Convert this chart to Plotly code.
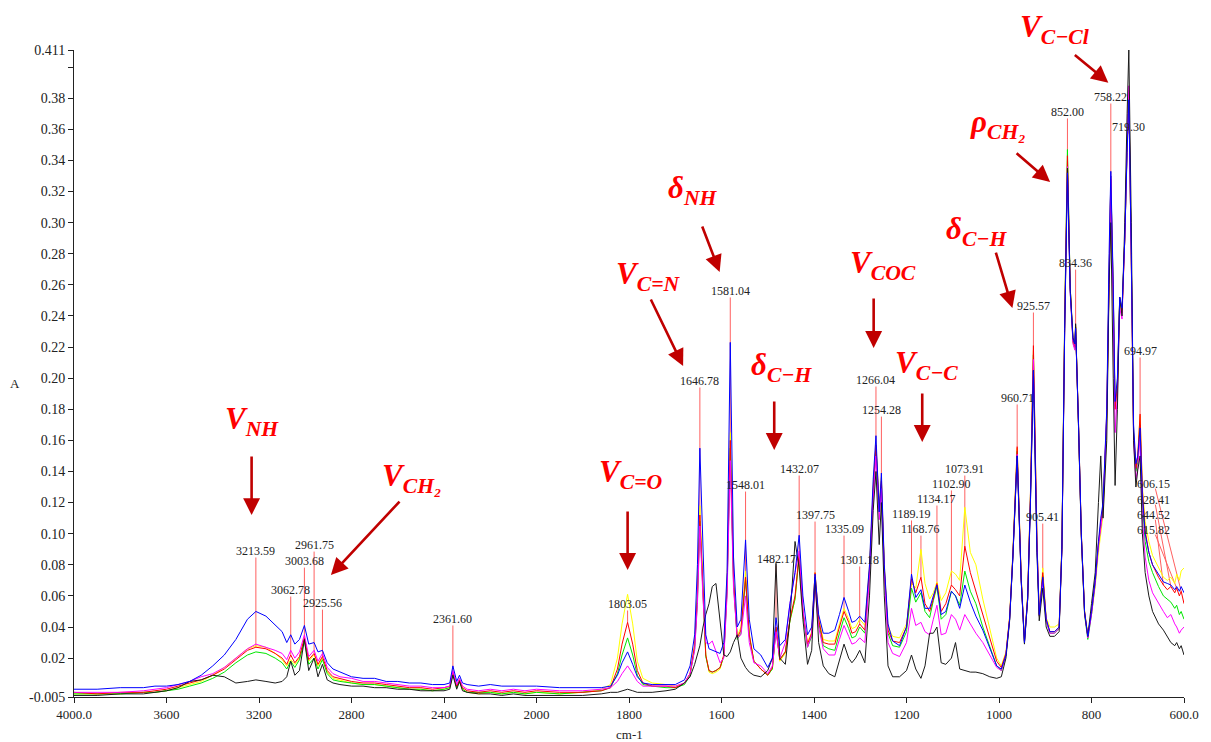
import plotly.graph_objects as go

# ---------------- spectra (absorbance vs wavenumber, cm-1) ----------------
wavenumber = [
    # 4000-2050
    4000, 3900, 3800, 3700, 3650, 3600, 3550, 3500, 3450, 3400,
    3350, 3300, 3250, 3213.59, 3170, 3130, 3100, 3080, 3062.78, 3045,
    3025, 3003.68, 2985, 2961.75, 2945, 2925.56, 2905, 2880, 2850, 2800,
    2750, 2700, 2650, 2600, 2550, 2500, 2450, 2400, 2375, 2361.60,
    2345, 2333, 2320, 2300, 2250, 2200, 2150, 2100, 2050,
    # 2000-1720
    2000, 1950, 1900, 1860, 1840, 1825, 1815, 1803.05, 1792, 1782, 1770, 1750, 1720,
    # 1700-1368
    1700, 1680, 1668, 1658, 1652, 1646.78, 1640, 1634, 1627, 1620,
    1612, 1603, 1595, 1588, 1581.04, 1574, 1566, 1558, 1548.01, 1540,
    1530, 1515, 1500, 1490, 1482.17, 1474, 1462, 1452, 1441, 1432.07,
    1424, 1414, 1405, 1397.75, 1390, 1380, 1368,
    # 1355-1005
    1355, 1345, 1335.09, 1325, 1318, 1310, 1301.18, 1290, 1280, 1272,
    1266.04, 1259, 1254.28, 1248, 1240, 1230, 1215, 1200, 1189.19, 1180,
    1168.76, 1160, 1150, 1142, 1134.17, 1125, 1115, 1102.90, 1094, 1085,
    1073.91, 1062, 1050, 1035, 1020, 1005,
    # 995-600
    995, 985, 977, 970, 960.71, 952, 945, 938, 932, 925.57,
    918, 913, 905.41, 898, 890, 880, 870, 864, 858, 852.00,
    846, 840, 836, 834.36, 828, 822, 815, 808, 800, 792,
    785, 780, 775, 767, 762, 758.22, 753, 749, 744, 739,
    734, 728, 723, 719.30, 714, 709, 704, 700, 694.97, 690,
    684, 676, 668, 655, 644.52, 636, 628.41, 620, 615.82, 610,
    606.15, 600,
]

blue = [
    0.000, 0.000, 0.001, 0.001, 0.002, 0.002, 0.003, 0.005, 0.009, 0.015,
    0.022, 0.032, 0.045, 0.050, 0.047, 0.041, 0.037, 0.030, 0.035, 0.029,
    0.032, 0.041, 0.029, 0.030, 0.024, 0.025, 0.017, 0.013, 0.011, 0.008,
    0.007, 0.007, 0.005, 0.005, 0.004, 0.004, 0.003, 0.003, 0.004, 0.015,
    0.005, 0.009, 0.004, 0.003, 0.002, 0.003, 0.002, 0.002, 0.002,
    0.002, 0.001, 0.001, 0.001, 0.002, 0.009, 0.017, 0.024, 0.016, 0.008, 0.004, 0.003, 0.003,
    0.003, 0.006, 0.015, 0.035, 0.080, 0.155, 0.085, 0.035, 0.026, 0.025,
    0.024, 0.023, 0.030, 0.075, 0.223, 0.085, 0.040, 0.045, 0.096, 0.045,
    0.026, 0.022, 0.014, 0.020, 0.046, 0.028, 0.032, 0.055, 0.075, 0.099,
    0.060, 0.035, 0.040, 0.074, 0.048, 0.036, 0.036,
    0.038, 0.048, 0.059, 0.050, 0.043, 0.044, 0.047, 0.043, 0.080, 0.135,
    0.163, 0.114, 0.139, 0.080, 0.042, 0.031, 0.028, 0.040, 0.074, 0.059,
    0.064, 0.052, 0.052, 0.060, 0.067, 0.048, 0.050, 0.063, 0.060, 0.052,
    0.067, 0.056, 0.047, 0.038, 0.026, 0.015,
    0.013, 0.022, 0.045, 0.085, 0.150, 0.070, 0.030, 0.058, 0.120, 0.205,
    0.090, 0.048, 0.072, 0.045, 0.037, 0.037, 0.040, 0.090, 0.230, 0.332,
    0.255, 0.225, 0.222, 0.232, 0.170, 0.100, 0.050, 0.034, 0.050, 0.070,
    0.095, 0.110, 0.120, 0.180, 0.280, 0.333, 0.260, 0.185, 0.200, 0.252,
    0.245, 0.290, 0.345, 0.379, 0.280, 0.170, 0.145, 0.150, 0.168, 0.125,
    0.100, 0.088, 0.080, 0.074, 0.069, 0.068, 0.067, 0.064, 0.066, 0.063,
    0.066, 0.062,
]

magenta = [
    -0.002, -0.002, -0.002, -0.001, 0.000, 0.001, 0.003, 0.005, 0.008, 0.010,
    0.014, 0.020, 0.026, 0.029, 0.027, 0.025, 0.023, 0.019, 0.025, 0.020,
    0.024, 0.035, 0.021, 0.025, 0.018, 0.023, 0.014, 0.010, 0.008, 0.007,
    0.005, 0.005, 0.004, 0.003, 0.002, 0.002, 0.001, 0.001, 0.002, 0.012,
    0.003, 0.007, 0.002, 0.000, -0.001, 0.000, -0.001, 0.000, -0.001,
    0.000, -0.001, -0.001, 0.000, 0.001, 0.005, 0.010, 0.015, 0.010, 0.005, 0.002, 0.002, 0.002,
    0.002, 0.004, 0.010, 0.025, 0.055, 0.105, 0.058, 0.030, 0.029, 0.031,
    0.024, 0.017, 0.020, 0.060, 0.147, 0.065, 0.033, 0.035, 0.060, 0.030,
    0.017, 0.015, 0.010, 0.015, 0.037, 0.020, 0.030, 0.055, 0.075, 0.089,
    0.052, 0.027, 0.035, 0.066, 0.040, 0.026, 0.022,
    0.022, 0.032, 0.041, 0.034, 0.029, 0.030, 0.033, 0.030, 0.072, 0.122,
    0.150, 0.109, 0.129, 0.075, 0.030, 0.023, 0.021, 0.030, 0.052, 0.041,
    0.043, 0.037, 0.035, 0.045, 0.054, 0.035, 0.036, 0.048, 0.045, 0.038,
    0.048, 0.042, 0.036, 0.030, 0.022, 0.014,
    0.012, 0.022, 0.045, 0.085, 0.151, 0.070, 0.030, 0.058, 0.122, 0.212,
    0.095, 0.047, 0.070, 0.044, 0.036, 0.036, 0.039, 0.090, 0.232, 0.336,
    0.255, 0.222, 0.218, 0.232, 0.168, 0.098, 0.049, 0.033, 0.048, 0.068,
    0.092, 0.105, 0.115, 0.175, 0.275, 0.330, 0.245, 0.165, 0.190, 0.245,
    0.238, 0.290, 0.350, 0.388, 0.275, 0.160, 0.135, 0.142, 0.162, 0.110,
    0.085, 0.070, 0.062, 0.055, 0.050, 0.046, 0.048, 0.042, 0.040, 0.036,
    0.038, 0.040,
]

red = [
    -0.002, -0.003, -0.002, -0.002, -0.001, 0.000, 0.002, 0.004, 0.006, 0.009,
    0.013, 0.019, 0.025, 0.027, 0.026, 0.023, 0.020, 0.016, 0.022, 0.017,
    0.021, 0.033, 0.019, 0.023, 0.016, 0.021, 0.012, 0.008, 0.007, 0.005,
    0.004, 0.004, 0.003, 0.002, 0.001, 0.001, 0.000, 0.001, 0.002, 0.011,
    0.002, 0.006, 0.001, -0.001, -0.002, -0.001, -0.002, -0.001, -0.002,
    -0.001, -0.002, -0.002, -0.001, 0.001, 0.013, 0.029, 0.043, 0.029, 0.012, 0.004, 0.002, 0.002,
    0.001, 0.004, 0.010, 0.028, 0.060, 0.112, 0.060, 0.022, 0.012, 0.011,
    0.012, 0.014, 0.022, 0.065, 0.160, 0.070, 0.033, 0.038, 0.072, 0.035,
    0.018, 0.013, 0.009, 0.014, 0.040, 0.019, 0.024, 0.045, 0.060, 0.087,
    0.050, 0.029, 0.036, 0.075, 0.045, 0.030, 0.029,
    0.029, 0.040, 0.050, 0.043, 0.036, 0.037, 0.042, 0.038, 0.077, 0.128,
    0.157, 0.116, 0.134, 0.078, 0.038, 0.031, 0.030, 0.040, 0.071, 0.062,
    0.072, 0.055, 0.050, 0.058, 0.068, 0.050, 0.055, 0.067, 0.064, 0.060,
    0.092, 0.075, 0.063, 0.048, 0.032, 0.018,
    0.014, 0.023, 0.046, 0.087, 0.156, 0.072, 0.031, 0.060, 0.126, 0.221,
    0.096, 0.048, 0.075, 0.045, 0.037, 0.037, 0.040, 0.092, 0.236, 0.343,
    0.258, 0.224, 0.220, 0.234, 0.170, 0.100, 0.050, 0.034, 0.050, 0.070,
    0.094, 0.108, 0.118, 0.178, 0.278, 0.328, 0.255, 0.180, 0.195, 0.252,
    0.242, 0.290, 0.348, 0.383, 0.278, 0.165, 0.142, 0.150, 0.177, 0.128,
    0.102, 0.088, 0.080, 0.072, 0.067, 0.064, 0.066, 0.062, 0.065, 0.060,
    0.063, 0.055,
]

yellow = [
    -0.003, -0.003, -0.003, -0.002, -0.002, -0.001, 0.001, 0.003, 0.005, 0.009,
    0.014, 0.020, 0.026, 0.028, 0.027, 0.023, 0.019, 0.015, 0.019, 0.016,
    0.020, 0.033, 0.018, 0.022, 0.015, 0.020, 0.011, 0.007, 0.006, 0.004,
    0.003, 0.003, 0.002, 0.001, 0.000, 0.000, -0.001, 0.000, 0.001, 0.011,
    0.001, 0.006, 0.000, -0.002, -0.003, -0.002, -0.003, -0.002, -0.003,
    -0.002, -0.003, -0.002, 0.000, 0.003, 0.020, 0.042, 0.061, 0.042, 0.018, 0.007, 0.004, 0.003,
    0.002, 0.004, 0.010, 0.030, 0.063, 0.118, 0.062, 0.022, 0.011, 0.010,
    0.011, 0.013, 0.022, 0.068, 0.165, 0.072, 0.034, 0.040, 0.076, 0.036,
    0.018, 0.013, 0.009, 0.013, 0.040, 0.018, 0.023, 0.044, 0.058, 0.086,
    0.049, 0.030, 0.037, 0.075, 0.046, 0.032, 0.031,
    0.031, 0.042, 0.052, 0.045, 0.039, 0.040, 0.045, 0.041, 0.079, 0.130,
    0.158, 0.118, 0.136, 0.080, 0.040, 0.034, 0.033, 0.042, 0.068, 0.065,
    0.090, 0.068, 0.058, 0.062, 0.069, 0.057, 0.062, 0.076, 0.074, 0.070,
    0.117, 0.088, 0.080, 0.058, 0.038, 0.020,
    0.015, 0.024, 0.047, 0.088, 0.155, 0.072, 0.032, 0.060, 0.125, 0.218,
    0.096, 0.049, 0.078, 0.046, 0.040, 0.040, 0.042, 0.092, 0.234, 0.340,
    0.256, 0.223, 0.220, 0.233, 0.170, 0.100, 0.051, 0.035, 0.048, 0.066,
    0.088, 0.100, 0.112, 0.170, 0.272, 0.325, 0.250, 0.180, 0.195, 0.250,
    0.242, 0.290, 0.347, 0.380, 0.278, 0.165, 0.142, 0.150, 0.176, 0.130,
    0.108, 0.095, 0.086, 0.078, 0.072, 0.070, 0.072, 0.068, 0.074, 0.070,
    0.076, 0.078,
]

green = [
    -0.003, -0.003, -0.003, -0.002, -0.002, -0.001, 0.000, 0.002, 0.004, 0.007,
    0.011, 0.017, 0.022, 0.024, 0.023, 0.020, 0.017, 0.013, 0.018, 0.014,
    0.019, 0.031, 0.016, 0.020, 0.013, 0.019, 0.010, 0.006, 0.005, 0.004,
    0.003, 0.003, 0.002, 0.001, 0.000, 0.000, -0.001, 0.000, 0.001, 0.010,
    0.001, 0.005, 0.000, -0.002, -0.002, -0.002, -0.003, -0.002, -0.003,
    -0.002, -0.003, -0.002, -0.001, 0.001, 0.010, 0.022, 0.033, 0.022, 0.009, 0.003, 0.002, 0.001,
    0.001, 0.003, 0.009, 0.026, 0.057, 0.108, 0.058, 0.021, 0.012, 0.011,
    0.012, 0.014, 0.021, 0.063, 0.155, 0.068, 0.032, 0.036, 0.070, 0.034,
    0.018, 0.013, 0.009, 0.013, 0.039, 0.019, 0.024, 0.044, 0.058, 0.086,
    0.049, 0.027, 0.034, 0.071, 0.043, 0.028, 0.026,
    0.025, 0.036, 0.046, 0.039, 0.033, 0.034, 0.040, 0.036, 0.076, 0.126,
    0.155, 0.114, 0.132, 0.077, 0.036, 0.028, 0.027, 0.037, 0.065, 0.056,
    0.062, 0.050, 0.046, 0.057, 0.066, 0.045, 0.048, 0.063, 0.060, 0.054,
    0.076, 0.063, 0.055, 0.040, 0.027, 0.015,
    0.012, 0.022, 0.045, 0.086, 0.153, 0.071, 0.030, 0.059, 0.124, 0.215,
    0.095, 0.047, 0.073, 0.044, 0.036, 0.036, 0.039, 0.092, 0.238, 0.347,
    0.258, 0.223, 0.219, 0.233, 0.168, 0.098, 0.048, 0.032, 0.048, 0.068,
    0.093, 0.106, 0.116, 0.176, 0.277, 0.330, 0.256, 0.182, 0.196, 0.252,
    0.243, 0.290, 0.350, 0.385, 0.277, 0.163, 0.140, 0.146, 0.170, 0.120,
    0.095, 0.082, 0.075, 0.066, 0.060, 0.058, 0.056, 0.052, 0.054, 0.048,
    0.050, 0.045,
]

black = [
    -0.004, -0.004, -0.003, -0.003, -0.002, -0.001, 0.001, 0.005, 0.006, 0.009,
    0.008, 0.004, 0.005, 0.006, 0.005, 0.004, 0.005, 0.008, 0.018, 0.009,
    0.012, 0.032, 0.012, 0.020, 0.008, 0.016, 0.006, 0.004, 0.003, 0.002,
    0.002, 0.001, 0.001, 0.000, 0.000, -0.001, -0.001, -0.001, 0.000, 0.009,
    0.000, 0.005, -0.001, -0.002, -0.003, -0.003, -0.004, -0.003, -0.004,
    -0.004, -0.004, -0.004, -0.003, -0.002, -0.002, -0.001, 0.000, -0.001, -0.002, -0.002, -0.002, -0.001,
    0.000, 0.004, 0.008, 0.016, 0.022, 0.028, 0.040, 0.048, 0.055, 0.066,
    0.068, 0.045, 0.022, 0.021, 0.024, 0.030, 0.035, 0.020, 0.014, 0.011,
    0.009, 0.008, 0.012, 0.020, 0.081, 0.020, 0.016, 0.045, 0.095, 0.078,
    0.045, 0.016, 0.025, 0.072, 0.030, 0.015, 0.010,
    0.008, 0.018, 0.029, 0.020, 0.017, 0.020, 0.025, 0.017, 0.060, 0.115,
    0.140, 0.093, 0.120, 0.060, 0.015, 0.008, 0.008, 0.012, 0.022, 0.013,
    0.007, 0.015, 0.036, 0.036, 0.040, 0.017, 0.016, 0.020, 0.030, 0.013,
    0.012, 0.011, 0.011, 0.010, 0.008, 0.007,
    0.008, 0.020, 0.044, 0.085, 0.150, 0.070, 0.029, 0.058, 0.120, 0.205,
    0.088, 0.044, 0.065, 0.040, 0.034, 0.034, 0.037, 0.090, 0.232, 0.335,
    0.258, 0.226, 0.222, 0.235, 0.168, 0.098, 0.049, 0.034, 0.055, 0.075,
    0.120, 0.150, 0.110, 0.160, 0.260, 0.300, 0.200, 0.131, 0.180, 0.252,
    0.240, 0.300, 0.370, 0.411, 0.300, 0.160, 0.130, 0.141, 0.150, 0.100,
    0.075, 0.060, 0.050, 0.042, 0.038, 0.034, 0.030, 0.028, 0.030, 0.026,
    0.028, 0.022,
]

# ---------------- peak labels ----------------
peak_wn = [3213.59, 3062.78, 3003.68, 2961.75, 2925.56, 2361.60, 1803.05,
           1646.78, 1581.04, 1548.01, 1482.17, 1432.07, 1397.75, 1335.09,
           1301.18, 1266.04, 1254.28, 1189.19, 1168.76, 1134.17, 1102.90,
           1073.91, 960.71, 925.57, 905.41, 852.00, 834.36, 758.22, 719.30,
           694.97]
peak_label_y = [0.0889, 0.0638, 0.0824, 0.0927, 0.0554, 0.0452, 0.0548,
                0.1982, 0.2561, 0.1313, 0.0837, 0.1416, 0.1120, 0.1030,
                0.0831, 0.1988, 0.1795, 0.1127, 0.1030, 0.1223, 0.1320,
                0.1416, 0.1873, 0.2464, 0.1107, 0.3712, 0.2740, 0.3808,
                0.3615, 0.2175]
# low-wavenumber peaks labelled in a stacked column with leader lines
stacked_wn = [606.15, 628.41, 644.52, 615.82]
stacked_label_y = [0.1320, 0.1217, 0.1120, 0.1024]
stacked_label_wn = 666

# ---------------- band assignments ----------------
band_text = ["V<sub>NH</sub>", "V<sub>CH₂</sub>", "V<sub>C=O</sub>", "V<sub>C=N</sub>",
             "δ<sub>NH</sub>", "δ<sub>C−H</sub>", "V<sub>COC</sub>", "V<sub>C−C</sub>",
             "δ<sub>C−H</sub>", "ρ<sub>CH₂</sub>", "V<sub>C−Cl</sub>"]
band_text_wn = [3232, 2537, 1795, 1758, 1662, 1471, 1250, 1156, 1048, 1003, 881]
band_text_y = [0.1725, 0.1358, 0.1384, 0.2657, 0.3210, 0.2072, 0.2728, 0.2085, 0.2946, 0.3634, 0.4245]
arrow_tip_wn = [3232, 2889, 1803, 1683, 1604, 1486, 1271, 1166, 971, 889.5, 763.6]
arrow_tip_y = [0.1120, 0.0734, 0.0767, 0.2078, 0.2683, 0.1538, 0.2194, 0.1590, 0.2451, 0.3261, 0.3900]
arrow_tail_dx = [0, 70, 0, -33, -18, 0, 0, 0, -17, -35, -35]
arrow_tail_dy = [-60, -75, -60, -68, -47, -50, -51, -50, -57, -30, -29]

# ---------------- axis ticks ----------------
x_tick_wn = [4000, 3600, 3200, 2800, 2400, 2000, 1800, 1600, 1400, 1200, 1000, 800, 600]
x_tick_text = ["4000.0", "3600", "3200", "2800", "2400", "2000", "1800", "1600",
               "1400", "1200", "1000", "800", "600.0"]
y_tick_vals = [-0.005, 0.02, 0.04, 0.06, 0.08, 0.10, 0.12, 0.14, 0.16, 0.18, 0.20,
               0.22, 0.24, 0.26, 0.28, 0.30, 0.32, 0.34, 0.36, 0.38, 0.40, 0.411]
y_tick_text = ["-0.005", "0.02", "0.04", "0.06", "0.08", "0.10", "0.12", "0.14",
               "0.16", "0.18", "0.20", "0.22", "0.24", "0.26", "0.28", "0.30",
               "0.32", "0.34", "0.36", "0.38", "", "0.411"]

Y_MIN, Y_MAX = -0.005, 0.411

series = [("yellow", yellow, "#FFFF00"), ("green", green, "#00E600"),
          ("red", red, "#FF0000"), ("magenta", magenta, "#FF00FF"),
          ("black", black, "#1A1A1A"), ("blue", blue, "#0000FF")]
for _name, vals, _c in series:
    assert len(vals) == len(wavenumber), (_name, len(vals), len(wavenumber))


def to_axis(w):
    """Display scale: 4000-2000 cm-1 shown at half the scale of 2000-600 cm-1."""
    return w if w <= 2000 else 2000 + (w - 2000) / 2


def to_paper_y(a):
    return (a - Y_MIN) / (Y_MAX - Y_MIN)


x_axis = [to_axis(w) for w in wavenumber]

fig = go.Figure()
for name, vals, color in series:
    fig.add_trace(go.Scatter(x=x_axis, y=vals, mode="lines", name=name,
                             line=dict(color=color, width=1), showlegend=False,
                             hoverinfo="skip"))

label_font = dict(family="Liberation Serif", size=12, color="#222222")
shapes = []
annotations = []

# peak labels with leader lines down to the red spectrum
for w, ly in zip(peak_wn, peak_label_y):
    i = wavenumber.index(w)
    shapes.append(dict(type="line", xref="x", yref="y", layer="below",
                       x0=to_axis(w), x1=to_axis(w), y0=ly - 0.0042, y1=red[i],
                       line=dict(color="#FF6060", width=1)))
    annotations.append(dict(x=to_axis(w), y=ly, xref="x", yref="y", text=f"{w:.2f}",
                            showarrow=False, font=label_font))

for w, ly in zip(stacked_wn, stacked_label_y):
    i = wavenumber.index(w)
    shapes.append(dict(type="line", xref="x", yref="y", layer="below",
                       x0=to_axis(stacked_label_wn - 4), x1=to_axis(w),
                       y0=ly - 0.003, y1=red[i],
                       line=dict(color="#FF6060", width=1)))
    annotations.append(dict(x=to_axis(stacked_label_wn), y=ly, xref="x", yref="y",
                            text=f"{w:.2f}", showarrow=False, font=label_font))

# band assignment labels and arrows
band_font = dict(family="Liberation Serif", size=31, color="#FF0000")
for t, tw, ty in zip(band_text, band_text_wn, band_text_y):
    annotations.append(dict(x=to_axis(tw), y=to_paper_y(ty), xref="x", yref="paper",
                            xanchor="center", yanchor="middle",
                            text=f"<b><i>{t}</i></b>", showarrow=False, font=band_font))
for aw, ay, dx, dy in zip(arrow_tip_wn, arrow_tip_y, arrow_tail_dx, arrow_tail_dy):
    annotations.append(dict(x=to_axis(aw), y=ay, xref="x", yref="y", text="",
                            showarrow=True, ax=dx, ay=dy, axref="pixel", ayref="pixel",
                            arrowhead=2, arrowsize=1.3, arrowwidth=2.6,
                            arrowcolor="#C00000", standoff=0))

# axis titles
title_font = dict(family="Liberation Serif", size=13, color="#222")
annotations.append(dict(xref="paper", yref="paper", x=-0.0536, y=0.485,
                        xanchor="center", yanchor="middle", text="A",
                        showarrow=False, font=title_font))
annotations.append(dict(xref="x", yref="paper", x=to_axis(1800), y=-0.0575,
                        xanchor="center", yanchor="middle", text="cm-1",
                        showarrow=False, font=title_font))

fig.update_layout(
    width=1211, height=742,
    margin=dict(l=74, r=18, t=50, b=45),
    plot_bgcolor="white", paper_bgcolor="white",
    shapes=shapes, annotations=annotations,
    hovermode=False,
    xaxis=dict(range=[to_axis(4000), to_axis(600)],
               tickvals=[to_axis(w) for w in x_tick_wn], ticktext=x_tick_text,
               showgrid=False, zeroline=False, showline=True, linecolor="#222",
               linewidth=1, ticks="outside", ticklen=5, tickcolor="#222",
               tickfont=dict(family="Liberation Serif", size=13, color="#222")),
    yaxis=dict(range=[Y_MIN, Y_MAX], tickvals=y_tick_vals, ticktext=y_tick_text,
               showgrid=False, zeroline=False, showline=True, linecolor="#222",
               linewidth=1, ticks="outside", ticklen=5, tickcolor="#222",
               tickfont=dict(family="Liberation Serif", size=14, color="#222")),
)

fig.write_html("out.html")
